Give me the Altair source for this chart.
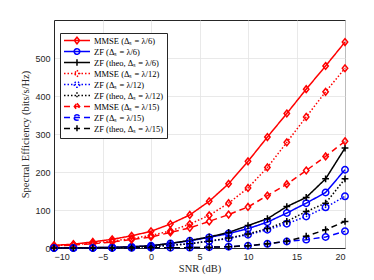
import altair as alt
import pandas as pd

snr = [-10, -8, -6, -4, -2, 0, 2, 4, 6, 8, 10, 12, 14, 16, 18, 20]

mmse6 = [7, 10, 16, 23, 32, 44, 63, 87, 123, 169, 228, 292, 354, 418, 479, 542]
zf6 = [0.2, 0.4, 0.8, 1.5, 3, 6, 12, 19, 28, 38, 51, 68, 92, 118, 146, 206]
theo6 = [0.2, 0.4, 0.8, 1.5, 3, 6, 12, 20, 29, 41, 59, 77, 109, 133, 182, 263]
mmse12 = [6, 9, 13, 18, 25, 33, 45, 63, 86, 118, 158, 212, 278, 345, 411, 473]
zf12 = [0.1, 0.2, 0.4, 0.8, 2, 4, 7, 11, 18, 25, 35, 48, 64, 83, 107, 136]
theo12 = [0.1, 0.2, 0.4, 0.8, 2, 4, 7, 11, 18, 26, 37, 51, 70, 96, 118, 182]
mmse15 = [5, 8, 11, 16, 22, 29, 41, 53, 70, 88, 108, 138, 168, 204, 241, 281]
zf15 = [0.05, 0.1, 0.1, 0.2, 0.3, 0.5, 0.8, 1, 2, 3.5, 6, 11, 17, 22, 29, 44]
theo15 = [0.05, 0.1, 0.1, 0.2, 0.3, 0.5, 0.8, 1, 2, 3.5, 6, 11, 18, 31, 48, 70]

names = [
    "MMSE (Δₛ = λ/6)", "ZF (Δₛ = λ/6)", "ZF (theo, Δₛ = λ/6)",
    "MMSE (Δₛ = λ/12)", "ZF (Δₛ = λ/12)", "ZF (theo, Δₛ = λ/12)",
    "MMSE (Δₛ = λ/15)", "ZF (Δₛ = λ/15)", "ZF (theo, Δₛ = λ/15)",
]
series = [mmse6, zf6, theo6, mmse12, zf12, theo12, mmse15, zf15, theo15]

colors = ["#ff0000", "#0000ff", "#000000"] * 3
solid, dotted, dashed = [1, 0], [1.5, 2], [6, 4]
dashes = [solid] * 3 + [dotted] * 3 + [dashed] * 3

diamond = "M0,-1L0.8,0L0,1L-0.8,0Z"
circle = "M-0.95,0A0.95,0.95 0 1,0 0.95,0A0.95,0.95 0 1,0 -0.95,0Z"
plus = "M-1,0H1M0,-1V1"
marker_shapes = [diamond, circle, plus] * 3

# legend symbols: unit = 3.5 px (symbolSize 49); line spans 26 px, marker centred
c = 2.71
m = 0.95
leg_diamond = f"M-1,0H6.43M{c},-{m}L{c+m*0.8:.3f},0L{c},{m}L{c-m*0.8:.3f},0Z"
r = 0.8
leg_circle = f"M-1,0H6.43M{c-r:.3f},0A{r},{r} 0 1,0 {c+r:.3f},0A{r},{r} 0 1,0 {c-r:.3f},0Z"
leg_plus = f"M-1,0H6.43M{c},-{m}V{m}"
legend_shapes = [leg_diamond, leg_circle, leg_plus] * 3

rows = []
for name, vals in zip(names, series):
    for x, v in zip(snr, vals):
        rows.append({"snr": x, "se": v, "series": name})
df = pd.DataFrame(rows)

x_enc = alt.X("snr:Q", scale=alt.Scale(domain=[-10, 20], nice=False),
              axis=alt.Axis(values=[-10, -5, 0, 5, 10, 15, 20], title="SNR (dB)"))
y_enc = alt.Y("se:Q", scale=alt.Scale(domain=[0, 600], nice=False),
              axis=alt.Axis(values=[0, 100, 200, 300, 400, 500],
                            title="Spectral Efficiency (bits/s/Hz)"))

color_scale = alt.Scale(domain=names, range=colors)
dash_scale = alt.Scale(domain=names, range=dashes)

lines = alt.Chart(df).mark_line(strokeWidth=1.5).encode(
    x=x_enc, y=y_enc,
    color=alt.Color("series:N", scale=color_scale, legend=None),
    strokeDash=alt.StrokeDash("series:N", scale=dash_scale, legend=None),
    detail="series:N",
)

points = alt.Chart(df).mark_point(filled=False, strokeWidth=1.5, size=46, opacity=1).encode(
    x=x_enc, y=y_enc,
    color=alt.Color("series:N", scale=color_scale, legend=None),
    shape=alt.Shape("series:N", scale=alt.Scale(domain=names, range=marker_shapes), legend=None),
)

leg = alt.Legend(title=None, orient="none", legendX=6, legendY=13)
legend_layer = alt.Chart(df).transform_filter("false").mark_point(
    filled=False, strokeWidth=1.5, opacity=1
).encode(
    x=x_enc, y=y_enc,
    color=alt.Color("series:N", scale=color_scale, legend=leg),
    strokeDash=alt.StrokeDash("series:N", scale=dash_scale, legend=leg),
    shape=alt.Shape("series:N", scale=alt.Scale(domain=names, range=legend_shapes), legend=leg),
)

chart = alt.layer(lines, points, legend_layer).resolve_scale(
    color="independent", shape="independent", strokeDash="independent"
).properties(
    width=291, height=228,
    padding={"left": 12, "top": 12, "right": 10, "bottom": 5},
).configure_view(
    stroke="#262626", strokeWidth=1
).configure_axis(
    grid=True, gridColor="#e3e3e3", gridWidth=0.8,
    domainColor="#262626", ticks=False,
    labelFont="Liberation Sans", labelFontSize=9, labelColor="#262626",
    titleFont="Liberation Serif", titleFontSize=10.5, titleColor="#262626", titleFontWeight="normal",
    labelPadding=4,
).configure_axisX(titlePadding=2).configure_axisY(titlePadding=4).configure_legend(
    labelFont="Liberation Serif", labelFontSize=8.5, labelColor="#000000",
    symbolSize=49, symbolStrokeWidth=1.5, symbolOpacity=1,
    fillColor="white", strokeColor="#262626", padding=3,
    rowPadding=-3, labelOffset=22, labelLimit=200,
)

chart.save("out.html", embed_options={"renderer": "svg", "actions": False})
